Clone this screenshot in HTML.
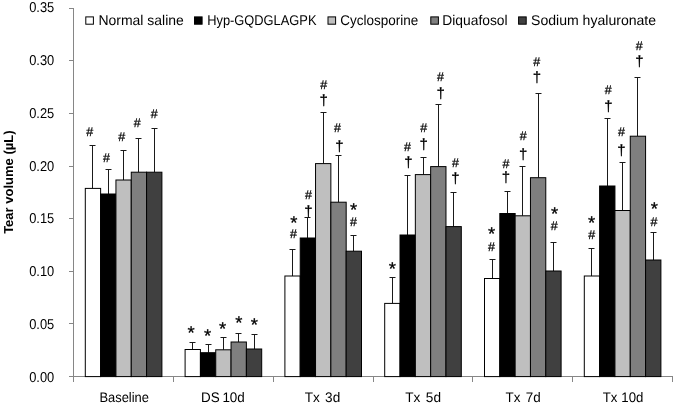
<!DOCTYPE html>
<html lang="en"><head><meta charset="utf-8"><title>Tear volume</title>
<style>
html,body{margin:0;padding:0;background:#fff;}
body{width:675px;height:404px;overflow:hidden;}
svg{display:block;filter:grayscale(1);}
text{font-family:"Liberation Sans","DejaVu Sans",sans-serif;fill:#000;text-rendering:geometricPrecision;}
.tick{font-size:14.2px;}
.cat{font-size:13.8px;}
.leg{font-size:14.1px;}
.ylab{font-size:13px;font-weight:bold;fill:#000;}
.sym{fill:#000;stroke:#000;stroke-width:0.25px;}
</style></head><body>
<svg width="675" height="404" viewBox="0 0 675 404">
<rect width="675" height="404" fill="#fff"/>
<g stroke="#868686" stroke-width="1" fill="none" shape-rendering="crispEdges">
<line x1="73.7" y1="8" x2="73.7" y2="381.6"/>
<line x1="68.7" y1="376.6" x2="672.5" y2="376.6"/>
<line x1="68.7" y1="323.9" x2="73.7" y2="323.9"/>
<line x1="68.7" y1="271.3" x2="73.7" y2="271.3"/>
<line x1="68.7" y1="218.6" x2="73.7" y2="218.6"/>
<line x1="68.7" y1="166.0" x2="73.7" y2="166.0"/>
<line x1="68.7" y1="113.3" x2="73.7" y2="113.3"/>
<line x1="68.7" y1="60.6" x2="73.7" y2="60.6"/>
<line x1="68.7" y1="8.0" x2="73.7" y2="8.0"/>
<line x1="173.5" y1="376.6" x2="173.5" y2="381.6"/>
<line x1="273.3" y1="376.6" x2="273.3" y2="381.6"/>
<line x1="373.1" y1="376.6" x2="373.1" y2="381.6"/>
<line x1="472.9" y1="376.6" x2="472.9" y2="381.6"/>
<line x1="572.7" y1="376.6" x2="572.7" y2="381.6"/>
<line x1="672.5" y1="376.6" x2="672.5" y2="381.6"/>
</g>
<g stroke="#1a1a1a" stroke-width="1" fill="none">
<path d="M92.5 188.4V145.5M89.5 145.5H95.5"/>
<path d="M108.5 194.0V169.5M105.5 169.5H111.5"/>
<path d="M123.5 180.0V150.5M120.5 150.5H126.5"/>
<path d="M138.5 172.2V138.5M135.5 138.5H141.5"/>
<path d="M154.5 172.2V128.5M151.5 128.5H157.5"/>
<path d="M192.5 349.5V342.5M189.5 342.5H195.5"/>
<path d="M208.5 352.7V344.5M205.5 344.5H211.5"/>
<path d="M223.5 349.8V337.5M220.5 337.5H226.5"/>
<path d="M238.5 342.0V333.5M235.5 333.5H241.5"/>
<path d="M254.5 349.0V334.5M251.5 334.5H257.5"/>
<path d="M292.5 276.0V249.5M289.5 249.5H295.5"/>
<path d="M307.5 238.0V217.5M304.5 217.5H310.5"/>
<path d="M323.5 163.6V112.5M320.5 112.5H326.5"/>
<path d="M338.5 202.2V155.5M335.5 155.5H341.5"/>
<path d="M353.5 251.2V235.5M350.5 235.5H356.5"/>
<path d="M392.5 303.4V277.5M389.5 277.5H395.5"/>
<path d="M407.5 235.0V175.5M404.5 175.5H410.5"/>
<path d="M423.5 174.6V157.5M420.5 157.5H426.5"/>
<path d="M438.5 166.6V104.5M435.5 104.5H441.5"/>
<path d="M453.5 226.6V192.5M450.5 192.5H456.5"/>
<path d="M492.5 278.5V259.5M489.5 259.5H495.5"/>
<path d="M507.5 213.5V191.5M504.5 191.5H510.5"/>
<path d="M522.5 215.8V166.5M519.5 166.5H525.5"/>
<path d="M538.5 177.7V93.5M535.5 93.5H541.5"/>
<path d="M553.5 271.0V242.5M550.5 242.5H556.5"/>
<path d="M591.5 276.0V248.5M588.5 248.5H594.5"/>
<path d="M607.5 186.0V118.5M604.5 118.5H610.5"/>
<path d="M622.5 210.5V162.5M619.5 162.5H625.5"/>
<path d="M637.5 136.2V77.5M634.5 77.5H640.5"/>
<path d="M653.5 260.0V232.5M650.5 232.5H656.5"/>
</g>
<g stroke="#000" stroke-width="1">
<rect x="85.30" y="188.4" width="15.32" height="188.2" fill="#ffffff"/>
<rect x="100.62" y="194.0" width="15.32" height="182.6" fill="#000000"/>
<rect x="115.94" y="180.0" width="15.32" height="196.6" fill="#bfbfbf"/>
<rect x="131.26" y="172.2" width="15.32" height="204.4" fill="#7f7f7f"/>
<rect x="146.58" y="172.2" width="15.32" height="204.4" fill="#404040"/>
<rect x="185.10" y="349.5" width="15.32" height="27.1" fill="#ffffff"/>
<rect x="200.42" y="352.7" width="15.32" height="23.9" fill="#000000"/>
<rect x="215.74" y="349.8" width="15.32" height="26.8" fill="#bfbfbf"/>
<rect x="231.06" y="342.0" width="15.32" height="34.6" fill="#7f7f7f"/>
<rect x="246.38" y="349.0" width="15.32" height="27.6" fill="#404040"/>
<rect x="284.90" y="276.0" width="15.32" height="100.6" fill="#ffffff"/>
<rect x="300.22" y="238.0" width="15.32" height="138.6" fill="#000000"/>
<rect x="315.54" y="163.6" width="15.32" height="213.0" fill="#bfbfbf"/>
<rect x="330.86" y="202.2" width="15.32" height="174.4" fill="#7f7f7f"/>
<rect x="346.18" y="251.2" width="15.32" height="125.4" fill="#404040"/>
<rect x="384.70" y="303.4" width="15.32" height="73.2" fill="#ffffff"/>
<rect x="400.02" y="235.0" width="15.32" height="141.6" fill="#000000"/>
<rect x="415.34" y="174.6" width="15.32" height="202.0" fill="#bfbfbf"/>
<rect x="430.66" y="166.6" width="15.32" height="210.0" fill="#7f7f7f"/>
<rect x="445.98" y="226.6" width="15.32" height="150.0" fill="#404040"/>
<rect x="484.50" y="278.5" width="15.32" height="98.1" fill="#ffffff"/>
<rect x="499.82" y="213.5" width="15.32" height="163.1" fill="#000000"/>
<rect x="515.14" y="215.8" width="15.32" height="160.8" fill="#bfbfbf"/>
<rect x="530.46" y="177.7" width="15.32" height="198.9" fill="#7f7f7f"/>
<rect x="545.78" y="271.0" width="15.32" height="105.6" fill="#404040"/>
<rect x="584.30" y="276.0" width="15.32" height="100.6" fill="#ffffff"/>
<rect x="599.62" y="186.0" width="15.32" height="190.6" fill="#000000"/>
<rect x="614.94" y="210.5" width="15.32" height="166.1" fill="#bfbfbf"/>
<rect x="630.26" y="136.2" width="15.32" height="240.4" fill="#7f7f7f"/>
<rect x="645.58" y="260.0" width="15.32" height="116.6" fill="#404040"/>
</g>
<g class="sym" text-anchor="middle">
<text x="89.8" y="136.1" font-size="12.5">#</text>
<text x="106.5" y="162.2" font-size="12.5">#</text>
<text x="121.8" y="140.7" font-size="12.5">#</text>
<text x="137.2" y="127.2" font-size="12.5">#</text>
<text x="154.3" y="118.0" font-size="12.5">#</text>
<text x="191.0" y="339.4" font-size="18.5">*</text>
<text x="207.6" y="342.4" font-size="18.5">*</text>
<text x="222.7" y="335.4" font-size="18.5">*</text>
<text x="238.8" y="329.4" font-size="18.5">*</text>
<text x="254.4" y="330.9" font-size="18.5">*</text>
<text x="293.9" y="229.4" font-size="18.5">*</text>
<text x="293.5" y="238.2" font-size="12.5">#</text>
<text x="308.3" y="216.4" font-size="15">†</text>
<text x="308.5" y="198.7" font-size="12.5">#</text>
<text x="323.7" y="104.5" font-size="15">†</text>
<text x="323.7" y="89.2" font-size="12.5">#</text>
<text x="339.3" y="150.9" font-size="15">†</text>
<text x="337.6" y="131.6" font-size="12.5">#</text>
<text x="353.7" y="215.6" font-size="18.5">*</text>
<text x="353.4" y="226.3" font-size="12.5">#</text>
<text x="392.3" y="274.8" font-size="18.5">*</text>
<text x="408.4" y="167.1" font-size="15">†</text>
<text x="407.6" y="151.2" font-size="12.5">#</text>
<text x="423.7" y="148.5" font-size="15">†</text>
<text x="423.7" y="132.2" font-size="12.5">#</text>
<text x="440.6" y="97.5" font-size="15">†</text>
<text x="440.6" y="81.0" font-size="12.5">#</text>
<text x="455.4" y="183.2" font-size="15">†</text>
<text x="455.4" y="166.9" font-size="12.5">#</text>
<text x="491.5" y="240.2" font-size="18.5">*</text>
<text x="491.5" y="250.8" font-size="12.5">#</text>
<text x="505.9" y="182.3" font-size="15">†</text>
<text x="505.9" y="168.1" font-size="12.5">#</text>
<text x="523.2" y="159.1" font-size="15">†</text>
<text x="523.2" y="139.6" font-size="12.5">#</text>
<text x="536.8" y="81.9" font-size="15">†</text>
<text x="536.8" y="65.7" font-size="12.5">#</text>
<text x="554.5" y="220.0" font-size="18.5">*</text>
<text x="554.2" y="230.2" font-size="12.5">#</text>
<text x="591.7" y="228.6" font-size="18.5">*</text>
<text x="591.7" y="238.8" font-size="12.5">#</text>
<text x="608.3" y="110.8" font-size="15">†</text>
<text x="608.3" y="94.2" font-size="12.5">#</text>
<text x="621.4" y="154.5" font-size="15">†</text>
<text x="621.4" y="136.1" font-size="12.5">#</text>
<text x="639.3" y="66.2" font-size="15">†</text>
<text x="639.3" y="49.8" font-size="12.5">#</text>
<text x="654.4" y="215.4" font-size="18.5">*</text>
<text x="654.1" y="225.9" font-size="12.5">#</text>
</g>
<g class="tick" text-anchor="end">
<text x="54.3" y="381.8" textLength="25.1" lengthAdjust="spacingAndGlyphs">0.00</text>
<text x="54.3" y="329.2" textLength="25.1" lengthAdjust="spacingAndGlyphs">0.05</text>
<text x="54.3" y="275.8" textLength="25.1" lengthAdjust="spacingAndGlyphs">0.10</text>
<text x="54.3" y="223.2" textLength="25.1" lengthAdjust="spacingAndGlyphs">0.15</text>
<text x="54.3" y="170.7" textLength="25.1" lengthAdjust="spacingAndGlyphs">0.20</text>
<text x="54.3" y="117.5" textLength="25.1" lengthAdjust="spacingAndGlyphs">0.25</text>
<text x="54.3" y="64.7" textLength="25.1" lengthAdjust="spacingAndGlyphs">0.30</text>
<text x="54.3" y="12.0" textLength="25.1" lengthAdjust="spacingAndGlyphs">0.35</text>
</g>
<g class="cat" text-anchor="middle">
<text x="124.2" y="401.8" word-spacing="0" textLength="49.6" lengthAdjust="spacingAndGlyphs">Baseline</text>
<text x="222.9" y="401.8" word-spacing="-1.0" textLength="43.8" lengthAdjust="spacingAndGlyphs">DS 10d</text>
<text x="322.5" y="401.8" word-spacing="1.5" textLength="35.5" lengthAdjust="spacingAndGlyphs">Tx 3d</text>
<text x="423.1" y="401.8" word-spacing="1.7" textLength="35.8" lengthAdjust="spacingAndGlyphs">Tx 5d</text>
<text x="523.2" y="401.8" word-spacing="1.7" textLength="35.2" lengthAdjust="spacingAndGlyphs">Tx 7d</text>
<text x="623.0" y="401.8" word-spacing="0.3" textLength="40.7" lengthAdjust="spacingAndGlyphs">Tx 10d</text>
</g>
<g class="leg">
<rect x="85.8" y="16.9" width="7.6" height="7.3" fill="#ffffff" stroke="#000" stroke-width="1"/>
<text x="98.4" y="24.5" textLength="85.4" lengthAdjust="spacingAndGlyphs">Normal saline</text>
<rect x="194.5" y="16.9" width="7.6" height="7.3" fill="#000000" stroke="#000" stroke-width="1"/>
<text x="207.2" y="24.5" textLength="109.3" lengthAdjust="spacingAndGlyphs">Hyp-GQDGLAGPK</text>
<rect x="328.0" y="16.9" width="7.6" height="7.3" fill="#bfbfbf" stroke="#000" stroke-width="1"/>
<text x="340.2" y="24.5" textLength="78.0" lengthAdjust="spacingAndGlyphs">Cyclosporine</text>
<rect x="430.8" y="16.9" width="7.6" height="7.3" fill="#7f7f7f" stroke="#000" stroke-width="1"/>
<text x="442.3" y="24.5" textLength="65.3" lengthAdjust="spacingAndGlyphs">Diquafosol</text>
<rect x="518.6" y="16.9" width="7.6" height="7.3" fill="#404040" stroke="#000" stroke-width="1"/>
<text x="531.0" y="24.5" textLength="125.1" lengthAdjust="spacingAndGlyphs">Sodium hyaluronate</text>
</g>
<text class="ylab" text-anchor="middle" transform="translate(12.8 182.2) rotate(-90)">Tear volume (µL)</text>
</svg></body></html>
